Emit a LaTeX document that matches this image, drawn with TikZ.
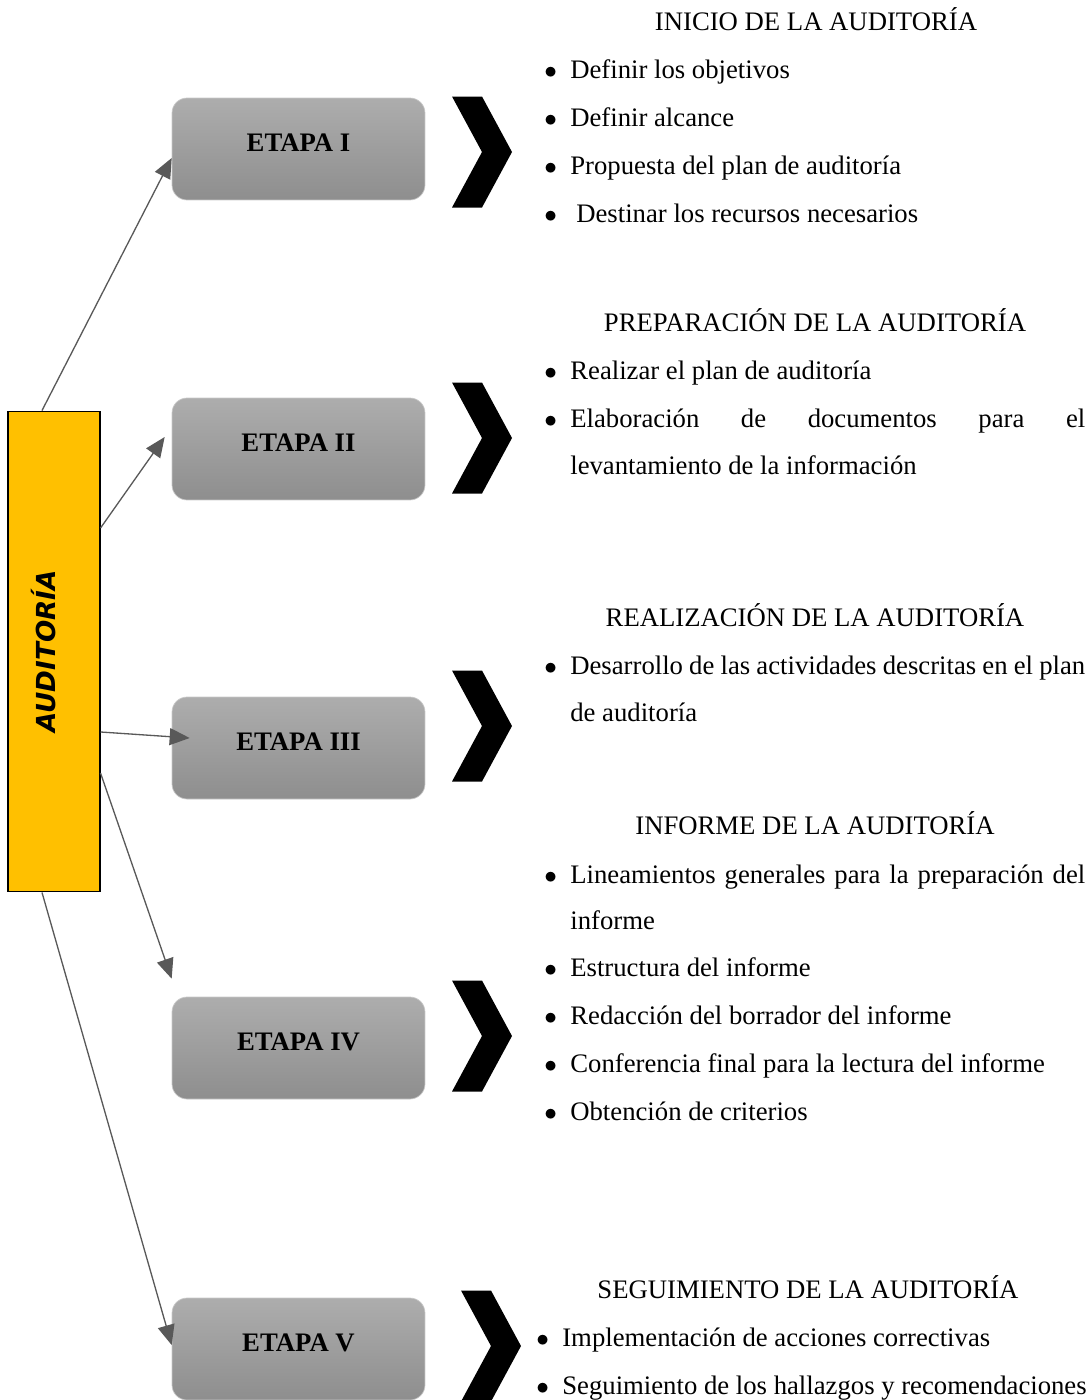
\documentclass[tikz,border=0pt]{standalone}
\usepackage{fontspec}
\setmainfont{Liberation Serif}
\newfontfamily\audfont{DejaVu Sans}
\usetikzlibrary{arrows.meta}
\definecolor{ambar}{RGB}{255,192,0}
\definecolor{flechagris}{RGB}{89,89,89}
\definecolor{etapaarriba}{RGB}{173,173,173}
\definecolor{etapaabajo}{RGB}{142,142,142}
\definecolor{etapaborde}{RGB}{200,200,200}
\newcommand{\tam}{\fontsize{15.2}{18}\selectfont}
\newcommand{\vineta}{\makebox[0.54cm][l]{\hspace{0.02cm}$\bullet$}}

\begin{document}
\begin{tikzpicture}[x=0.02cm, y=-0.02cm, font=\tam,
    etapa/.style={rounded corners=0.3cm, draw=etapaborde, top color=etapaarriba, bottom color=etapaabajo,
        minimum width=5.06cm, minimum height=2.04cm, text depth=0.26cm, font=\tam\bfseries},
    flecha/.style={flechagris, line width=0.75pt, -{Triangle[length=0.4cm,width=0.34cm]}},
    punto/.style={anchor=base west, inner sep=0pt},
    titulo/.style={anchor=base, inner sep=0pt}]
    \useasboundingbox (0,0) rectangle (1092,1400);
    \clip (0,0) rectangle (1092,1400);

    % caja vertical
    \node[draw, line width=0.6pt, fill=ambar, minimum width=1.84cm, minimum height=9.62cm, inner sep=0pt]
        (aud) at (54,651.5) {\rotatebox{90}{\audfont\fontsize{14.9}{16}\selectfont\bfseries\itshape AUDITORÍA}\hspace*{0.4cm}};

    % etapas
    \node[etapa] (e1) at (298.5,149) {ETAPA I};
    \node[etapa] (e2) at (298.5,449) {ETAPA II};
    \node[etapa] (e3) at (298.5,748) {ETAPA III};
    \node[etapa] (e4) at (298.5,1048) {ETAPA IV};
    \node[etapa] (e5) at (298.5,1349) {ETAPA V};

    \draw[flecha] ([xshift=-0.24cm]aud.north) -- ([yshift=-0.18cm]e1.west);
    \draw[flecha] ([yshift=2.47cm]aud.east) -- ([xshift=-0.14cm,yshift=0.24cm]e2.west);
    \draw[flecha] ([yshift=-1.61cm]aud.east) -- ([xshift=0.36cm,yshift=0.2cm]e3.west);
    \draw[flecha] ([yshift=-2.43cm]aud.east) -- ([yshift=0.36cm]e4.north west);
    \draw[flecha] ([xshift=-0.24cm]aud.south) -- ([yshift=0.08cm]e5.west);

    % chevrones
    \foreach \cx/\cy in {452/152, 452/438, 452/726, 452/1036, 461/1346}
        \fill[black] (\cx,\cy-55.5) -- ++(30,0) -- ++(30,55.5) -- ++(-30,55.5) -- ++(-30,0) -- ++(30,-55.5) -- cycle;

    % etapa I
    \node[titulo] (t1) at (816,30) {INICIO DE LA AUDITORÍA};
    \node[punto] (p11) at (543,78) {\vineta Definir los objetivos};
    \node[punto] (p12) at (543,126) {\vineta Definir alcance};
    \node[punto] (p13) at (543,174) {\vineta Propuesta del plan de auditoría};
    \node[punto] (p14) at (543,222) {\vineta\hspace{0.12cm}Destinar los recursos necesarios};

    % etapa II
    \node[titulo] (t2) at (815,331) {PREPARACIÓN DE LA AUDITORÍA};
    \node[punto] (p21) at (543,379) {\vineta Realizar el plan de auditoría};
    \node[punto] (p22) at (543,427) {\vineta\makebox[10.3cm][s]{Elaboración de documentos para el}};
    \node[punto] (p22b) at (570,474) {levantamiento de la información};

    % etapa III
    \node[titulo] (t3) at (815,626) {REALIZACIÓN DE LA AUDITORÍA};
    \node[punto] (p31) at (543,674) {\vineta\makebox[10.3cm][s]{Desarrollo de las actividades descritas en el plan}};
    \node[punto] (p31b) at (570,721) {de auditoría};

    % etapa IV
    \node[titulo] (t4) at (815,834) {INFORME DE LA AUDITORÍA};
    \node[punto] (p41) at (543,883) {\vineta\makebox[10.3cm][s]{Lineamientos generales para la preparación del}};
    \node[punto] (p41b) at (570,929) {informe};
    \node[punto] (p42) at (543,976) {\vineta Estructura del informe};
    \node[punto] (p43) at (543,1024) {\vineta Redacción del borrador del informe};
    \node[punto] (p44) at (543,1072) {\vineta Conferencia final para la lectura del informe};
    \node[punto] (p45) at (543,1120) {\vineta Obtención de criterios};

    % etapa V
    \node[titulo] (t5) at (808,1298) {SEGUIMIENTO DE LA AUDITORÍA};
    \node[punto] (p51) at (535,1346) {\vineta Implementación de acciones correctivas};
    \node[punto] (p52) at (535,1394) {\vineta Seguimiento de los hallazgos y recomendaciones};

\end{tikzpicture}
\end{document}
